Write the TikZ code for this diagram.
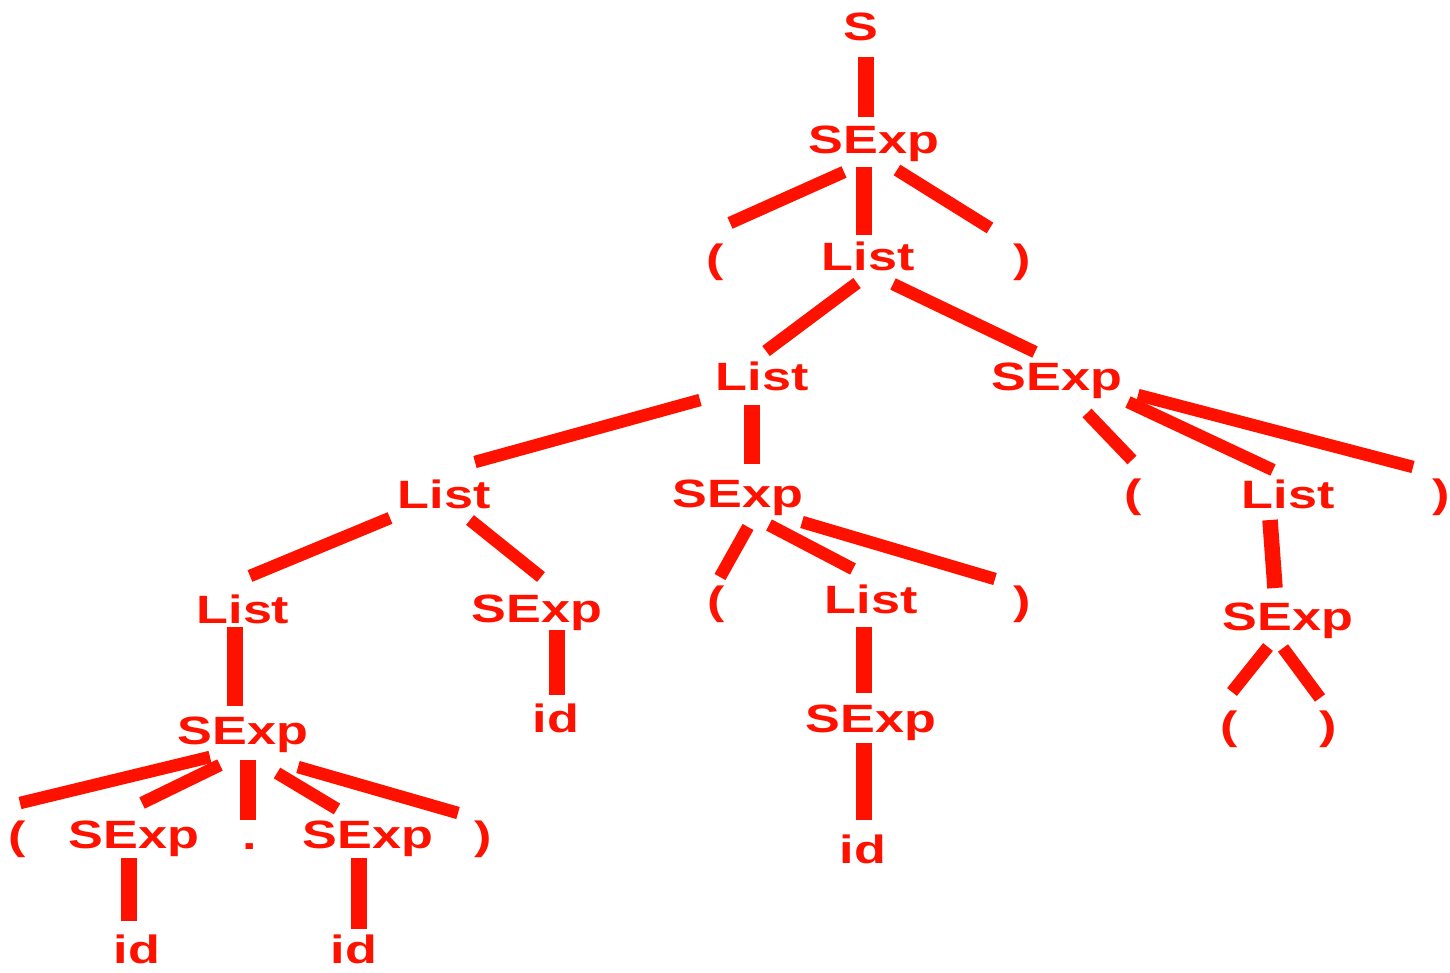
\documentclass[tikz,border=0pt]{standalone}
\usepackage{fontspec}
\newfontfamily\treefont[FakeStretch=1.32]{Liberation Sans}
\definecolor{treered}{RGB}{255,17,0}
\tikzset{
  lbl/.style={anchor=base, inner sep=0pt, outer sep=0pt, text=treered,
    font=\treefont\bfseries\fontsize{39.5}{40}\selectfont},
  edge/.style={draw=treered, line width=12.5pt, line cap=butt},
  vedge/.style={edge, line width=15.5pt}
}
\newcommand\conn[5][edge]{\draw[#1] ([shift={#3}]#2.base) -- ([shift={#5}]#4.base);}
\begin{document}
\begin{tikzpicture}[x=1pt,y=-1pt]
\useasboundingbox (0,0) rectangle (1450,972);
% nodes
\node[lbl] (s)   at (861,40)   {S};
\node[lbl] (e0)  at (874,153)  {SExp};
\node[lbl] (lp0) at (715,272)  {(};
\node[lbl] (l0)  at (868,270)  {List};
\node[lbl] (rp0) at (1022,272) {)};
\node[lbl] (l1)  at (762,390)  {List};
\node[lbl] (e1)  at (1057,390) {SExp};
\node[lbl] (l2)  at (444,508)  {List};
\node[lbl] (e2)  at (738,507)  {SExp};
\node[lbl] (lp1) at (1133,507) {(};
\node[lbl] (l3)  at (1288,508) {List};
\node[lbl] (rp1) at (1441,507) {)};
\node[lbl] (l4)  at (243,623)  {List};
\node[lbl] (e3)  at (537,622)  {SExp};
\node[lbl] (lp2) at (716,614)  {(};
\node[lbl] (l5)  at (871,613)  {List};
\node[lbl] (rp2) at (1022,614) {)};
\node[lbl] (e4)  at (1288,630) {SExp};
\node[lbl] (e5)  at (243,744)  {SExp};
\node[lbl] (id1) at (556,732)  {id};
\node[lbl] (e6)  at (871,732)  {SExp};
\node[lbl] (lp3) at (1229,739) {(};
\node[lbl] (rp3) at (1328,739) {)};
\node[lbl] (lp4) at (17,849)   {(};
\node[lbl] (e7)  at (134,848)  {SExp};
\node[lbl] (dot) at (250,849)  {.};
\node[lbl] (e8)  at (368,848)  {SExp};
\node[lbl] (rp4) at (483,849)  {)};
\node[lbl] (id2) at (863,863)  {id};
\node[lbl] (id3) at (137,963)  {id};
\node[lbl] (id4) at (354,963)  {id};
% connectors
\conn[vedge]{s}{(5,17)}{e0}{(-8,-36)}
\conn{e0}{(-30,19)}{lp0}{(15,-49)}
\conn[vedge]{e0}{(-10,14)}{l0}{(-4,-35)}
\conn{e0}{(23,17)}{rp0}{(-32,-44)}
\conn{l0}{(-11,13)}{l1}{(4,-39)}
\conn{l0}{(25,14)}{e1}{(-22,-38)}
\conn{l1}{(-62,10)}{l2}{(31,-46)}
\conn[vedge]{l1}{(-10,15)}{e2}{(14,-43)}
\conn{e1}{(30,23)}{lp1}{(-1,-47)}
\conn{e1}{(71,12)}{l3}{(-15,-38)}
\conn{e1}{(81,5)}{rp1}{(-28,-40)}
\conn{l2}{(-54,10)}{l4}{(7,-47)}
\conn{l2}{(26,12)}{e3}{(4,-45)}
\conn{e2}{(10,20)}{lp2}{(4,-37)}
\conn{e2}{(31,18)}{l5}{(-18,-44)}
\conn{e2}{(64,15)}{rp2}{(-27,-35)}
\conn[vedge]{l3}{(-18,12)}{e4}{(-13,-42)}
\conn[vedge]{l4}{(-8,4)}{e5}{(-8,-38)}
\conn[vedge]{e3}{(20,8)}{id1}{(1,-37)}
\conn[vedge]{l5}{(-7,14)}{e6}{(-7,-39)}
\conn{e4}{(-20,17)}{lp3}{(3,-47)}
\conn{e4}{(-5,18)}{rp3}{(-8,-41)}
\conn{e5}{(-33,13)}{lp4}{(3,-46)}
\conn{e5}{(-23,21)}{e7}{(8,-45)}
\conn[vedge]{e5}{(5,16)}{dot}{(-2,-29)}
\conn{e5}{(34,29)}{e8}{(-31,-39)}
\conn{e5}{(55,23)}{rp4}{(-25,-36)}
\conn[vedge]{e6}{(-7,11)}{id2}{(1,-43)}
\conn[vedge]{e7}{(-5,10)}{id3}{(-8,-42)}
\conn[vedge]{e8}{(-9,10)}{id4}{(5,-34)}
\end{tikzpicture}
\end{document}
